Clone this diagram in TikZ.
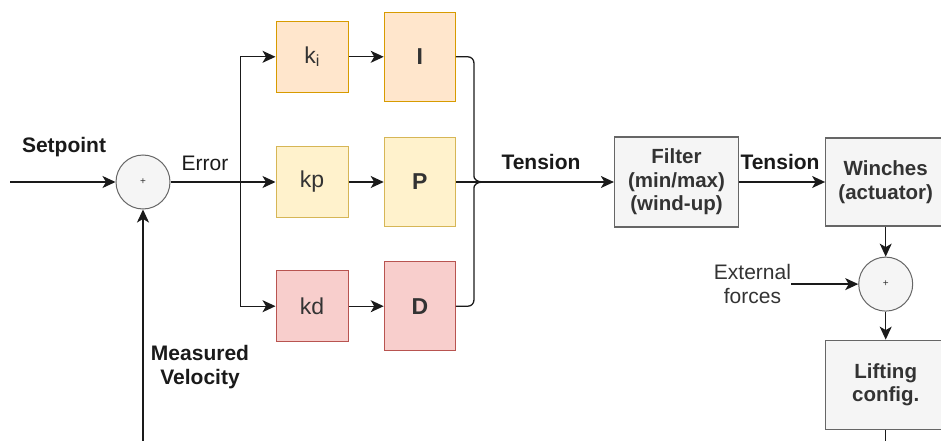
\documentclass[tikz,border=0pt]{standalone}
\usepackage{fontspec}
\setmainfont{Liberation Sans}
\usetikzlibrary{arrows.meta,positioning,calc}
\definecolor{ink}{HTML}{1A1A1A}
\definecolor{txt}{HTML}{333333}
\definecolor{edge}{HTML}{666666}
\definecolor{grayfill}{HTML}{F5F5F5}
\definecolor{orfill}{HTML}{FFE6CC}
\definecolor{ordraw}{HTML}{D79B00}
\definecolor{yefill}{HTML}{FFF2CC}
\definecolor{yedraw}{HTML}{D6B656}
\definecolor{rdfill}{HTML}{F8CECC}
\definecolor{rddraw}{HTML}{B85450}

\begin{document}
\begin{tikzpicture}[x=1pt,y=-1pt,font=\fontsize{21}{24}\selectfont,
  box/.style={draw=edge,fill=grayfill,line width=1.2pt,minimum width=124pt,minimum height=90pt,align=center,text=txt,font=\bfseries\fontsize{20.5}{23.5}\selectfont,inner sep=2pt},
  gain/.style={draw,line width=1.2pt,minimum width=72pt,minimum height=71pt,text=txt,font=\fontsize{23}{25}\selectfont},
  term/.style={gain,minimum width=71pt,minimum height=89pt,font=\bfseries\fontsize{23}{25}\selectfont},
  junction/.style={circle,draw=edge,fill=grayfill,line width=1pt,minimum size=54pt,inner sep=0pt,font=\fontsize{10}{10}\selectfont,text=txt},
  flow/.style={-{Stealth[length=13pt,width=12pt,inset=3.5pt]},line width=1.3pt,draw=ink},
  wire/.style={line width=1.3pt,draw=ink},
  lbl/.style={text=ink,align=center,font=\bfseries\fontsize{21}{24}\selectfont}]
\useasboundingbox (0,0) rectangle (941,441);

% error and gains
\node[junction] (sum) at (143,182) {+};
\node[gain,draw=yedraw,fill=yefill,right=105pt of sum] (kp) {kp};
\node[gain,draw=ordraw,fill=orfill,above=53pt of kp] (ki) {k\textsubscript{i}};
\node[gain,draw=rddraw,fill=rdfill,below=52pt of kp] (kd) {kd};
\node[term,draw=ordraw,fill=orfill,right=35pt of ki] (I) {I};
\node[term,draw=yedraw,fill=yefill,right=35pt of kp] (P) {P};
\node[term,draw=rddraw,fill=rdfill,right=35pt of kd] (D) {D};

% plant side
\node[box,right=158pt of P] (filter) {Filter\\(min/max)\\(wind-up)};
\node[box,minimum width=120pt,minimum height=88pt,right=86pt of filter] (winch) {Winches\\(actuator)};
\node[junction,below=30pt of winch] (sumext) {+};
\node[box,minimum width=120pt,minimum height=89pt,below=28pt of sumext] (lift) {Lifting\\config.};
\node[text=txt,align=center,inner sep=0pt,left=67pt of sumext] (ext) {External\\forces};

% labels
\node[lbl] (setlbl) at (64,147) {Setpoint};
\node[lbl,font=\fontsize{21}{24}\selectfont] (errlbl) at (205,163) {Error};
\node[lbl] (tenslbl) at (541,162) {Tension};
\node[lbl] (tenslbltwo) at (780,162) {Tension};
\node[lbl] (measlbl) at (200,367) {Measured\\Velocity};

\coordinate (spin) at (10,182);
\coordinate (fbin) at (143,441);
\coordinate (liftout) at (lift.south |- fbin);
\coordinate (split) at ($(kp.west)+(-35,0)$);
\coordinate (tip) at ($(P.east)+(27,0)$);

\draw[flow] (spin) -- (sum);
\draw[flow] (fbin) -- (sum);
\draw[flow] (sum) -- (kp);
\draw[flow] (split) |- (ki);
\draw[flow] (split) |- (kd);
\draw[flow] (ki) -- (I); \draw[flow] (kp) -- (P); \draw[flow] (kd) -- (D);
\draw[wire,rounded corners=6pt] (I.east) -| ($(tip)+(-9,-12)$) .. controls +(0,9) and +(-6,0) .. (tip);
\draw[wire,rounded corners=6pt] (D.east) -| ($(tip)+(-9,12)$) .. controls +(0,-9) and +(-6,0) .. (tip);
\draw[flow] (P) -- (filter);
\draw[flow] (filter) -- (winch);
\draw[flow] (winch) -- (sumext);
\draw[flow] (ext.east |- sumext) -- (sumext);
\draw[flow] (sumext) -- (lift);
\draw[wire] (lift) -- (liftout);
\end{tikzpicture}
\end{document}
